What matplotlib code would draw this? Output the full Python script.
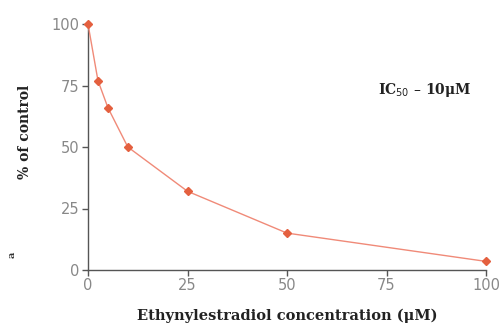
import matplotlib
matplotlib.use("Agg")
import matplotlib.pyplot as plt

conc = [0, 2.5, 5, 10, 25, 50, 100]
pct_control = [100, 77, 66, 50, 32, 15, 3.5]
x_ticks = [0, 25, 50, 75, 100]
y_ticks = [0, 25, 50, 75, 100]

fig = plt.figure(figsize=(5.0, 3.28), dpi=100)
ax = fig.add_axes([88/500, 1-270/328, (486-88)/500, (270-24)/328])

ax.plot(conc, pct_control, color='#f08a78', lw=1.0, marker='D', ms=4.5,
        mfc='#e4603f', mec='#e4603f', clip_on=False, zorder=3)

ax.set_xlim(0, 100)
ax.set_ylim(0, 100)
ax.set_xticks(x_ticks)
ax.set_yticks(y_ticks)
for s in ['top', 'right']:
    ax.spines[s].set_visible(False)
for s in ['left', 'bottom']:
    ax.spines[s].set_color('#555555')
    ax.spines[s].set_linewidth(1.0)
ax.tick_params(direction='out', length=4, width=1, color='#555555',
               labelcolor='#888888', labelsize=10.5, pad=2)

ax.set_xlabel('Ethynylestradiol concentration (μM)', fontfamily='DejaVu Serif',
              fontweight='bold', fontsize=10.5, color='#222222', labelpad=11)
ax.set_ylabel('% of control', fontfamily='DejaVu Serif', fontweight='bold',
              fontsize=10, color='#222222')
ax.yaxis.set_label_coords(-0.14, 0.56)

ax.text(0.845, 0.73, r'IC$_{50}$ – 10μM', transform=ax.transAxes,
        fontfamily='DejaVu Serif', fontweight='bold', fontsize=10,
        color='#222222', ha='center', va='center')

fig.text(12/500, 1-255/328, 'a', rotation=90, fontfamily='DejaVu Serif',
         fontweight='bold', fontsize=7, color='#333333', ha='center', va='center')

fig.savefig('out.png', dpi=100)
